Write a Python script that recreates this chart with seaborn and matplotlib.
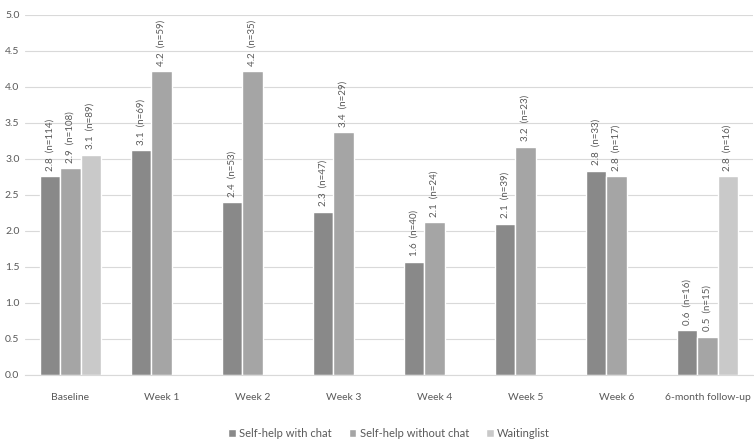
import numpy as np
import pandas as pd
import matplotlib
matplotlib.use("Agg")
import matplotlib.pyplot as plt
import seaborn as sns

weeks = ["Baseline", "Week 1", "Week 2", "Week 3", "Week 4", "Week 5", "Week 6", "6-month follow-up"]
groups = ["Self-help with chat", "Self-help without chat", "Waitinglist"]

# mean scores (None = no bar)
with_chat = [2.76, 3.12, 2.40, 2.27, 1.57, 2.10, 2.84, 0.62]
without_chat = [2.87, 4.22, 4.22, 3.37, 2.12, 3.17, 2.76, 0.53]
waitinglist = [3.06, None, None, None, None, None, None, 2.76]

# sample sizes
n_with_chat = [114, 69, 53, 47, 40, 39, 33, 16]
n_without_chat = [108, 59, 35, 29, 24, 23, 17, 15]
n_waitinglist = [89, None, None, None, None, None, None, 16]

vals = [with_chat, without_chat, waitinglist]
ns = [n_with_chat, n_without_chat, n_waitinglist]

rows = []
for g, v, n in zip(groups, vals, ns):
    for w, x, k in zip(weeks, v, n):
        rows.append({"week": w, "group": g, "score": np.nan if x is None else x, "n": k})
df = pd.DataFrame(rows)

sns.set_style("white")
plt.rcParams["font.family"] = ["Lato", "DejaVu Sans"]

fig = plt.figure(figsize=(7.54, 4.41), dpi=100)
ax = fig.add_axes([25 / 754, 1 - 375 / 441, 728 / 754, 360 / 441])

colors = ["#898989", "#a5a5a5", "#c9c9c9"]
sns.barplot(data=df.dropna(subset=["score"]), x="week", y="score", hue="group",
            order=weeks, hue_order=groups, palette=colors, width=0.66,
            errorbar=None, saturation=1, ax=ax)

txt = "#595959"
for container, v, n in zip(ax.containers, vals, ns):
    for bar in container:
        i = int(round(bar.get_x() + bar.get_width() / 2))
        if v[i] is None:
            continue
        h = bar.get_height()
        ax.annotate(f"{v[i]:.1f}  (n={n[i]})", (bar.get_x() + bar.get_width() / 2, h),
                    xytext=(0, 4), textcoords="offset points", rotation=90,
                    ha="center", va="bottom", fontsize=7, color=txt)

ax.set_ylim(0, 5.0)
ax.set_xlim(-0.5, 7.5)
ax.set_yticks(np.arange(0, 5.01, 0.5))
ax.set_yticklabels([f"{t:.1f}" for t in np.arange(0, 5.01, 0.5)])
ax.yaxis.grid(True, color="#d9d9d9", linewidth=0.8)
ax.set_axisbelow(True)
for s in ["top", "right", "left"]:
    ax.spines[s].set_visible(False)
ax.spines["bottom"].set_color("#d9d9d9")
ax.tick_params(axis="both", length=0, labelsize=7.5, colors=txt)
ax.tick_params(axis="x", pad=13)
ax.tick_params(axis="y", pad=4)
ax.set_xlabel("")
ax.set_ylabel("")

sns.move_legend(ax, "center", bbox_to_anchor=(0.5, -0.163), ncol=3, frameon=False,
                title=None, fontsize=8, handlelength=0.7, handleheight=0.7,
                handletextpad=0.3, columnspacing=1.5, labelcolor=txt)

fig.savefig("out.png", dpi=100)
